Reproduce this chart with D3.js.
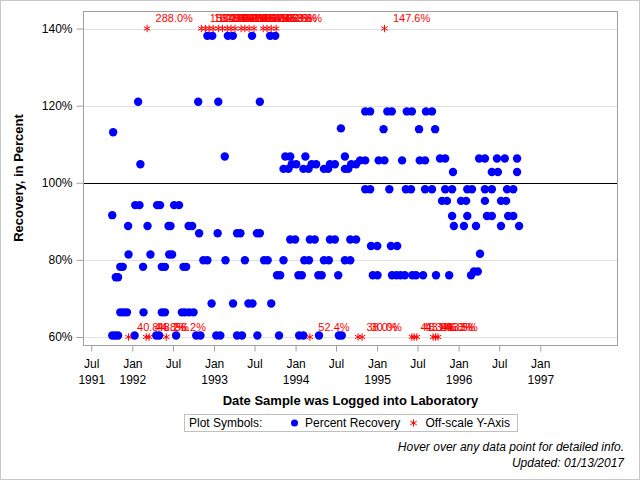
<!DOCTYPE html>
<html><head><meta charset="utf-8">
<script src="https://cdn.jsdelivr.net/npm/d3@7"></script>
<style>
body{margin:0;background:#fff}
svg{display:block}
text{font-family:"Liberation Sans",Arial,Helvetica,sans-serif}
</style>
</head><body>
<svg id="c" width="640" height="480"></svg>
<script>
// ---------- DATA ----------
const recoveryPoints = [
 ["1992-12-02",138.1],["1992-12-24",138.1],["1993-03-04",138.1],["1993-03-26",138.1],["1993-06-20",138.1],["1993-09-09",138.1],["1993-10-02",138.1],
 ["1992-01-27",121.0],["1992-10-22",121.0],["1993-01-20",121.0],["1993-07-25",121.0],
 ["1994-11-09",118.5],["1994-12-01",118.5],["1995-02-16",118.5],["1995-03-08",118.5],["1995-05-14",118.5],["1995-06-06",118.5],["1995-08-08",118.5],["1995-09-04",118.5],
 ["1994-07-23",114.1],["1995-01-30",113.9],["1995-07-08",113.9],["1995-09-18",113.9],["1991-10-07",113.1],
 ["1993-02-18",106.8],["1993-11-16",106.8],["1993-12-08",106.8],["1994-02-14",106.8],["1994-08-10",106.8],
 ["1995-10-10",106.3],["1995-11-02",106.3],["1996-04-02",106.3],["1996-04-28",106.3],["1996-06-21",106.3],["1996-07-26",106.3],["1996-09-19",106.3],
 ["1994-10-17",105.8],["1994-11-09",105.8],["1995-01-08",105.8],["1995-02-03",105.8],["1995-04-23",105.8],["1995-07-11",105.8],["1995-08-04",105.8],
 ["1992-02-06",104.8],["1993-12-15",104.8],["1994-01-04",104.8],["1994-03-14",104.8],["1994-04-03",104.8],["1994-06-04",104.8],["1994-06-26",104.8],["1994-09-07",104.8],["1994-09-29",104.8],
 ["1993-11-08",103.6],["1993-11-30",103.6],["1994-02-05",103.6],["1994-02-28",103.6],["1994-05-08",103.6],["1994-05-27",103.6],["1994-08-10",103.6],["1994-08-25",103.6],
 ["1995-12-07",102.8],["1996-05-29",102.8],["1996-06-25",102.8],["1996-09-19",102.8],
 ["1994-11-09",98.3],["1994-12-01",98.3],["1995-02-25",98.3],["1995-05-10",98.3],["1995-06-02",98.3],["1995-08-04",98.3],["1995-09-04",98.3],["1995-11-02",98.3],["1995-12-03",98.3],["1996-02-09",98.3],["1996-03-01",98.3],["1996-04-28",98.3],["1996-05-29",98.3],["1996-08-05",98.3],["1996-09-02",98.3],
 ["1995-10-19",95.3],["1995-11-10",95.3],["1996-01-12",95.3],["1996-02-04",95.3],["1996-04-28",95.3],["1996-07-09",95.3],["1996-08-01",95.3],
 ["1992-01-14",94.2],["1992-02-02",94.2],["1992-04-21",94.2],["1992-05-04",94.2],["1992-07-06",94.2],["1992-07-28",94.2],
 ["1991-10-03",91.6],
 ["1995-12-03",91.4],["1996-02-09",91.4],["1996-05-07",91.4],["1996-05-29",91.4],["1996-08-10",91.4],["1996-09-02",91.4],
 ["1991-12-13",88.8],["1992-03-09",88.8],["1992-06-11",88.8],["1992-06-20",88.8],["1992-09-09",88.8],["1992-09-25",88.8],["1995-12-11",88.8],["1996-01-25",88.8],["1996-03-19",88.8],["1996-07-09",88.8],["1996-09-28",88.8],
 ["1992-10-26",86.9],["1993-01-17",86.9],["1993-04-14",86.9],["1993-04-29",86.9],["1993-07-12",86.9],["1993-07-25",86.9],
 ["1993-12-08",85.3],["1993-12-30",85.3],["1994-03-06",85.3],["1994-03-28",85.3],["1994-06-04",85.3],["1994-06-26",85.3],["1994-09-03",85.3],["1994-09-29",85.3],
 ["1994-12-05",83.6],["1995-01-02",83.6],["1995-03-04",83.6],["1995-04-01",83.6],
 ["1996-04-06",81.6],
 ["1991-12-15",81.4],["1992-03-22",81.4],["1992-06-14",81.4],["1992-06-27",81.4],
 ["1992-11-14",79.9],["1992-12-02",79.9],["1993-02-21",79.9],["1993-05-19",79.9],["1993-08-13",79.9],["1993-08-29",79.9],["1993-11-08",79.9],["1994-02-09",79.9],["1994-03-02",79.9],["1994-05-08",79.9],["1994-05-30",79.9],["1994-08-10",79.9],["1994-09-03",79.9],
 ["1991-11-08",78.2],["1991-11-19",78.2],["1992-02-18",78.2],["1992-05-12",78.2],["1992-05-26",78.2],["1992-08-17",78.2],["1992-08-29",78.2],
 ["1996-03-10",77.0],["1996-03-27",77.0],
 ["1993-10-10",76.0],["1993-10-24",76.0],["1994-01-14",76.0],["1994-01-29",76.0],["1994-04-13",76.0],["1994-04-28",76.0],["1994-07-11",76.0],["1994-12-13",76.0],["1995-01-03",76.0],["1995-03-09",76.0],["1995-03-29",76.0],["1995-04-16",76.0],["1995-05-05",76.0],["1995-06-08",76.0],["1995-06-24",76.0],["1995-07-26",76.0],["1995-09-22",76.0],["1995-11-20",76.0],["1996-02-26",76.0],
 ["1991-10-19",75.5],["1991-10-29",75.5],
 ["1992-12-21",68.7],["1993-03-27",68.7],["1993-06-04",68.7],["1993-06-22",68.7],["1993-09-14",68.7],
 ["1991-11-08",66.4],["1991-11-23",66.4],["1991-12-08",66.4],["1992-02-20",66.4],["1992-05-12",66.4],["1992-05-26",66.4],["1992-08-10",66.4],["1992-08-24",66.4],["1992-09-12",66.4],["1992-10-01",66.4],
 ["1991-10-03",60.4],["1991-10-16",60.4],["1991-10-29",60.4],["1992-01-11",60.4],["1992-04-17",60.4],["1992-04-30",60.4],["1992-07-15",60.4],["1992-10-13",60.4],["1992-11-01",60.4],["1993-01-11",60.4],["1993-01-29",60.4],["1993-04-14",60.4],["1993-05-06",60.4],["1993-07-14",60.4],["1993-10-19",60.4],["1994-01-17",60.4],["1994-02-05",60.4],["1994-04-16",60.4],["1994-07-14",60.4],["1994-07-27",60.4]
];
// off-scale values: [date, actual value label]; drawn at the axis limit
const offScaleHigh = [
 ["1992-03-07","288.0%"],["1992-11-05","158.3%"],["1992-11-23","162.7%"],["1992-12-10","171.4%"],["1992-12-28","149.2%"],
 ["1993-01-20","183.5%"],["1993-02-08","156.1%"],["1993-03-01","164.8%"],["1993-03-18","152.9%"],["1993-04-05","177.3%"],
 ["1993-05-02","160.6%"],["1993-05-19","148.4%"],["1993-06-07","169.0%"],["1993-06-29","155.7%"],["1993-08-09","174.2%"],
 ["1993-08-26","151.3%"],["1993-09-14","166.5%"],["1993-10-06","159.8%"],["1995-02-03","147.6%"]
];
const offScaleLow = [
 ["1991-12-15","40.8%"],["1992-03-03","44.8%"],["1992-03-16","48.2%"],["1992-06-01","56.2%"],["1994-03-06","52.4%"],
 ["1994-10-08","38.0%"],["1994-10-26","30.0%"],["1995-06-06","41.3%"],["1995-06-16","48.1%"],["1995-06-28","43.6%"],
 ["1995-09-09","41.8%"],["1995-09-20","46.3%"],["1995-10-01","43.5%"]
];
const offScaleHighLevel = 140, offScaleLowLevel = 60;
const yTickValues = [60, 80, 100, 120, 140];
const referenceValue = 100;
const xTickDates = ["1991-07-01","1992-01-01","1992-07-01","1993-01-01","1993-07-01","1994-01-01","1994-07-01","1995-01-01","1995-07-01","1996-01-01","1996-07-01","1997-01-01"];
const xDomain = ["1991-05-25","1997-12-15"];
const yDomain = [57.93, 144.54];

// ---------- CHART ----------
const parse = d3.utcParse("%Y-%m-%d");
const svg = d3.select("#c");
const L = 83, R = 618, T = 11, B = 345;

const x = d3.scaleUtc().domain(xDomain.map(parse)).range([L, R]);
const y = d3.scaleLinear().domain(yDomain).range([B, T]);

// outer border
svg.append("rect").attr("x",0.5).attr("y",0.5).attr("width",639).attr("height",479)
  .attr("fill","#fff").attr("stroke","#c8c8c8");

// gridlines
svg.append("g").selectAll("line").data(yTickValues.filter(v=>v!==referenceValue)).join("line")
  .attr("x1",L).attr("x2",R).attr("y1",d=>Math.round(y(d))+0.5).attr("y2",d=>Math.round(y(d))+0.5)
  .attr("stroke","#e0e0e0");

// reference line
svg.append("line").attr("x1",L).attr("x2",R)
  .attr("y1",Math.round(y(referenceValue))+0.5).attr("y2",Math.round(y(referenceValue))+0.5)
  .attr("stroke","#000");

// frame
svg.append("rect").attr("x",L+0.5).attr("y",T+0.5).attr("width",R-L-1).attr("height",B-T)
  .attr("fill","none").attr("stroke","#a0a0a0");

// y axis
const yAxis = svg.append("g").attr("transform",`translate(${L+0.5},0)`)
  .call(d3.axisLeft(y).tickValues(yTickValues).tickFormat(d=>d+"%").tickSize(7).tickPadding(4));
yAxis.select(".domain").remove();
yAxis.selectAll(".tick line").attr("stroke","#a0a0a0");
yAxis.selectAll("text").attr("font-size",12).attr("fill","#000")
  .attr("font-family",'"Liberation Sans",Arial,sans-serif');

// x axis: month on first line; year shown on the first tick and on January ticks
const fmtMon = d3.utcFormat("%b"), fmtYr = d3.utcFormat("%Y");
const xAxis = svg.append("g").attr("transform",`translate(0,${B+0.5})`)
  .call(d3.axisBottom(x).tickValues(xTickDates.map(parse)).tickSize(6).tickFormat(""));
xAxis.select(".domain").remove();
xAxis.selectAll(".tick line").attr("stroke","#a0a0a0");
xAxis.selectAll(".tick").each(function(d,i){
  const g = d3.select(this);
  g.append("text").attr("y",22).attr("text-anchor","middle").attr("font-size",12).attr("fill","#000").text(fmtMon(d));
  if (i === 0 || d.getUTCMonth() === 0)
    g.append("text").attr("y",38).attr("text-anchor","middle").attr("font-size",12).attr("fill","#000").text(fmtYr(d));
});

// axis titles
svg.append("text").attr("x",(L+R)/2).attr("y",405).attr("text-anchor","middle")
  .attr("font-size",13).attr("font-weight","bold").text("Date Sample was Logged into Laboratory");
svg.append("text").attr("transform","translate(23,178) rotate(-90)").attr("text-anchor","middle")
  .attr("font-size",13).attr("font-weight","bold").text("Recovery, in Percent");

// points
svg.append("g").selectAll("circle").data(recoveryPoints).join("circle")
  .attr("cx",d=>x(parse(d[0]))).attr("cy",d=>y(d[1])).attr("r",4.2).attr("fill","#0000ff");

// off-scale asterisks
const ast = d3.symbol().type(d3.symbolAsterisk).size(38);
const offAll = offScaleHigh.map(d=>({date:d[0],label:d[1],v:offScaleHighLevel}))
  .concat(offScaleLow.map(d=>({date:d[0],label:d[1],v:offScaleLowLevel})));
svg.append("g").selectAll("path").data(offAll).join("path")
  .attr("transform",d=>`translate(${x(parse(d.date))},${y(d.v)})`)
  .attr("d",ast).attr("fill","none").attr("stroke","#ff0000").attr("stroke-width",1);
svg.append("g").selectAll("text").data(offAll).join("text")
  .attr("x",d=>x(parse(d.date))+8.5).attr("y",d=>y(d.v)-6.5)
  .attr("font-size",11).attr("fill","#ff0000").text(d=>d.label);

// legend
const lg = svg.append("g");
lg.append("rect").attr("x",184.5).attr("y",414.5).attr("width",333).attr("height",17)
  .attr("fill","#fff").attr("stroke","#c0c0c0");
lg.append("text").attr("x",189).attr("y",427).attr("font-size",12).text("Plot Symbols:");
lg.append("circle").attr("cx",294.5).attr("cy",423).attr("r",3.5).attr("fill","#0000ff");
lg.append("text").attr("x",305).attr("y",427).attr("font-size",12).text("Percent Recovery");
lg.append("path").attr("transform","translate(413.5,423)").attr("d",ast)
  .attr("fill","none").attr("stroke","#ff0000");
lg.append("text").attr("x",425.5).attr("y",427).attr("font-size",12).text("Off-scale Y-Axis");

// footnotes
svg.append("text").attr("x",624).attr("y",451).attr("text-anchor","end").attr("font-size",12)
  .attr("font-style","italic").text("Hover over any data point for detailed info.");
svg.append("text").attr("x",624).attr("y",467).attr("text-anchor","end").attr("font-size",12)
  .attr("font-style","italic").text("Updated: 01/13/2017");
</script>
</body></html>
